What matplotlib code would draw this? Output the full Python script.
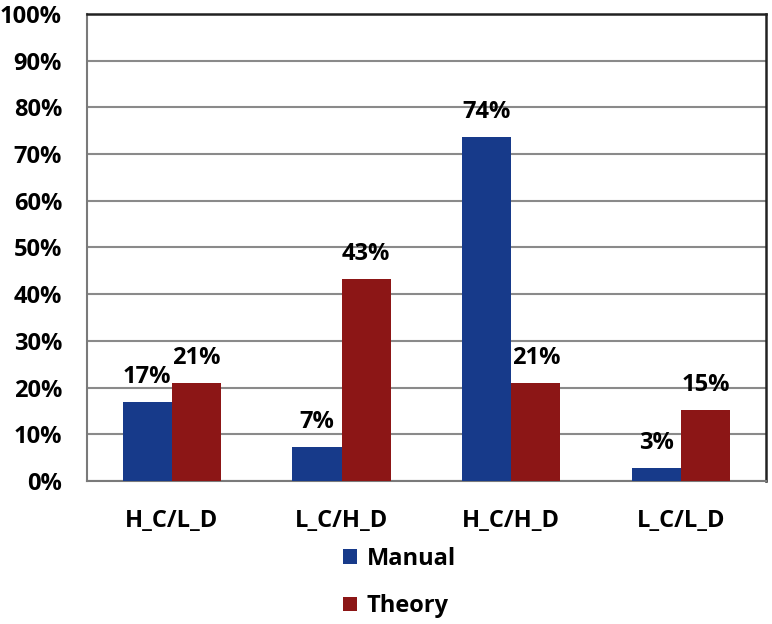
import matplotlib
matplotlib.use("Agg")
import matplotlib.pyplot as plt
import numpy as np

# 数据
categories = ['H_C/L_D', 'L_C/H_D', 'H_C/H_D', 'L_C/L_D']
manual = [16.9, 7.2, 73.7, 2.7]
theory = [20.9, 43.2, 20.9, 15.2]
manual_labels = ['17%', '7%', '74%', '3%']
theory_labels = ['21%', '43%', '21%', '15%']
yticks = [0, 10, 20, 30, 40, 50, 60, 70, 80, 90, 100]

plt.rcParams['font.family'] = ['Open Sans', 'DejaVu Sans']
plt.rcParams['font.weight'] = 'bold'

fig = plt.figure(figsize=(7.72, 6.24), dpi=100)
ax = fig.add_axes([0.1127, 0.2292, 0.8793, 0.7484])

x = np.arange(len(categories))
w = 0.29
blue = '#173A8A'
red = '#8C1616'
b1 = ax.bar(x - w / 2, manual, w, color=blue, label='Manual', zorder=3)
b2 = ax.bar(x + w / 2, theory, w, color=red, label='Theory', zorder=3)

for bars, labels in [(b1, manual_labels), (b2, theory_labels)]:
    for rect, lab in zip(bars, labels):
        ax.annotate(lab, (rect.get_x() + rect.get_width() / 2, rect.get_height()),
                    xytext=(0, 13), textcoords='offset pixels',
                    ha='center', va='bottom', fontsize=17, fontweight='bold')

ax.set_xlim(-0.5, len(categories) - 0.5)
ax.set_ylim(0, 100)
ax.set_yticks(yticks)
ax.set_yticklabels([f'{t}%' for t in yticks], fontsize=17, fontweight='bold')
ax.set_xticks(x)
ax.set_xticklabels(categories, fontsize=17, fontweight='bold')
ax.tick_params(axis='both', length=0)
ax.tick_params(axis='y', pad=18)
ax.tick_params(axis='x', pad=20)
ax.grid(axis='y', color='#8a8a8a', linewidth=1.5, zorder=0)
for s in ['left', 'bottom']:
    ax.spines[s].set_color('#7a7a7a')
    ax.spines[s].set_linewidth(1.5)
for s in ['top', 'right']:
    ax.spines[s].set_color('#222222')
    ax.spines[s].set_linewidth(1.8)

fig.legend(handles=[b1, b2], labels=['Manual', 'Theory'], loc='upper left',
           bbox_to_anchor=(0.432, 0.139), frameon=False, fontsize=17,
           handlelength=0.6, handleheight=0.6, handletextpad=0.4,
           labelspacing=1.0, borderaxespad=0)

fig.savefig('out.png', dpi=100)
